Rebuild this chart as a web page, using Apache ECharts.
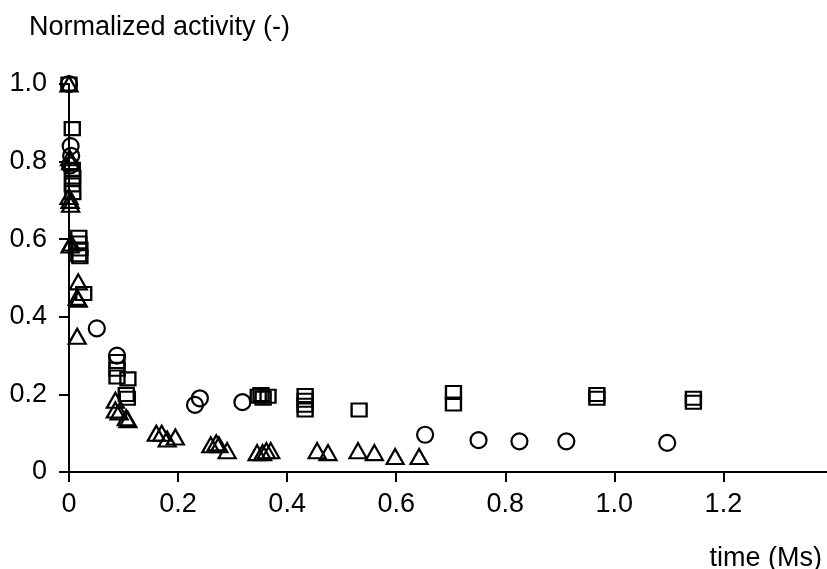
<!DOCTYPE html>
<html>
<head>
<meta charset="utf-8">
<script src="https://cdn.jsdelivr.net/npm/echarts@6/dist/echarts.min.js"></script>
<style>
html,body{margin:0;padding:0;background:#fff;}
#chart{width:827px;height:569px;}
</style>
</head>
<body>
<div id="chart"></div>
<script>
var yAxisTitle = "Normalized activity (-)";
var xAxisTitle = "time (Ms)";
var xTicks = [0, 0.2, 0.4, 0.6, 0.8, 1.0, 1.2];
var yTicks = [0, 0.2, 0.4, 0.6, 0.8, 1.0];

var circles = [
  [0, 1.0], [0.003, 0.84], [0.004, 0.815], [0.002, 0.79],
  [0.051, 0.37], [0.088, 0.30], [0.231, 0.173], [0.240, 0.19],
  [0.318, 0.18], [0.653, 0.096], [0.751, 0.082], [0.826, 0.079],
  [0.912, 0.079], [1.097, 0.075]
];
var squares = [
  [0, 1.0], [0.006, 0.885], [0.006, 0.78], [0.007, 0.76], [0.006, 0.74], [0.007, 0.72],
  [0.018, 0.605], [0.018, 0.59], [0.020, 0.575], [0.018, 0.56], [0.020, 0.555],
  [0.027, 0.46], [0.088, 0.285], [0.088, 0.265], [0.088, 0.245], [0.108, 0.24],
  [0.105, 0.20], [0.107, 0.19], [0.347, 0.195], [0.352, 0.20], [0.356, 0.19],
  [0.365, 0.195], [0.433, 0.197], [0.433, 0.185], [0.433, 0.172], [0.433, 0.16],
  [0.532, 0.16], [0.705, 0.205], [0.705, 0.175], [0.968, 0.2], [0.968, 0.19],
  [1.145, 0.19], [1.145, 0.18]
];
var triangles = [
  [0, 1.0], [0.001, 0.81], [0.003, 0.80], [0.0, 0.71], [0.002, 0.70], [0.003, 0.69],
  [0.004, 0.59], [0.002, 0.585], [0.017, 0.49], [0.015, 0.45], [0.017, 0.445],
  [0.015, 0.35], [0.085, 0.185], [0.085, 0.16], [0.092, 0.155], [0.105, 0.14],
  [0.108, 0.135], [0.160, 0.10], [0.170, 0.10], [0.180, 0.085], [0.195, 0.09],
  [0.260, 0.07], [0.270, 0.075], [0.275, 0.07], [0.290, 0.055], [0.345, 0.05],
  [0.355, 0.05], [0.362, 0.055], [0.370, 0.055], [0.455, 0.055], [0.475, 0.05],
  [0.530, 0.055], [0.560, 0.05], [0.598, 0.04], [0.642, 0.04]
];

function fmt(v) { return v === 0 ? "0" : v.toFixed(1); }
var FONT = "Liberation Sans, Arial, Helvetica, sans-serif";
var markStyle = { color: "rgba(0,0,0,0)", borderColor: "#000", borderWidth: 2.2, opacity: 1 };

var chart = echarts.init(document.getElementById("chart"), null, { renderer: "canvas" });
chart.setOption({
  animation: false,
  backgroundColor: "#fff",
  title: [
    { text: yAxisTitle, left: 24, top: 9,
      textStyle: { fontFamily: FONT, fontSize: 27, fontWeight: "normal", color: "#000" } },
    { text: xAxisTitle, right: 0, top: 540,
      textStyle: { fontFamily: FONT, fontSize: 27, fontWeight: "normal", color: "#000" } }
  ],
  grid: { left: 69, right: 0, top: 84, bottom: 97, containLabel: false },
  xAxis: {
    type: "value", min: 0, max: 1.39,
    splitLine: { show: false },
    axisLine: { show: true, onZero: false, lineStyle: { color: "#000", width: 2 } },
    axisTick: { show: true, length: 10, customValues: xTicks, lineStyle: { color: "#000", width: 2 } },
    axisLabel: { customValues: xTicks, formatter: fmt, margin: 19,
      fontFamily: FONT, fontSize: 27, color: "#000" }
  },
  yAxis: {
    type: "value", min: 0, max: 1.0,
    splitLine: { show: false },
    axisLine: { show: true, onZero: false, lineStyle: { color: "#000", width: 2 } },
    axisTick: { show: true, length: 10, customValues: yTicks, lineStyle: { color: "#000", width: 2 } },
    axisLabel: { customValues: yTicks, formatter: fmt, margin: 22,
      fontFamily: FONT, fontSize: 27, color: "#000" }
  },
  series: [
    { type: "scatter", name: "circle", data: circles, symbol: "circle", symbolSize: 16,
      itemStyle: markStyle, clip: false },
    { type: "scatter", name: "square", data: squares, symbol: "rect", symbolSize: [15, 13],
      itemStyle: markStyle, clip: false },
    { type: "scatter", name: "triangle", data: triangles, symbol: "triangle", symbolSize: [17, 15],
      itemStyle: markStyle, clip: false }
  ]
});
</script>
</body>
</html>
